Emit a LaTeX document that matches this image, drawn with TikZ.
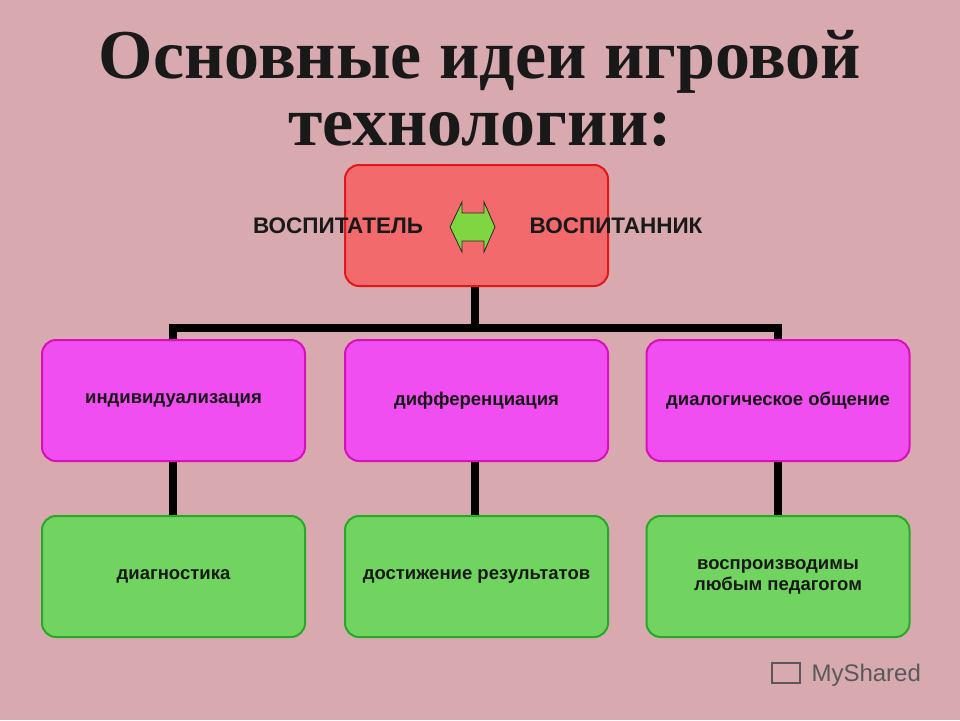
\documentclass[tikz,border=0pt]{standalone}
\usepackage{fontspec}
\setmainfont{Liberation Serif}
\setsansfont{Liberation Sans}
\definecolor{bg}{HTML}{D8AAB0}
\definecolor{redf}{HTML}{F26A6C}
\definecolor{redd}{HTML}{E01818}
\definecolor{pinkf}{HTML}{F04EF0}
\definecolor{pinkd}{HTML}{D810B8}
\definecolor{greenf}{HTML}{72D460}
\definecolor{greend}{HTML}{28A828}
\definecolor{arrg}{HTML}{7FD640}
\begin{document}
\begin{tikzpicture}[x=1pt,y=-1pt,
  box/.style={draw,line width=2pt,rounded corners=14pt,minimum width=263pt,minimum height=121pt,inner sep=0pt},
  redbox/.style={box,fill=redf,draw=redd},
  pinkbox/.style={box,fill=pinkf,draw=pinkd},
  greenbox/.style={box,fill=greenf,draw=greend},
  lbl/.style={font=\sffamily\bfseries\fontsize{18.5}{21}\selectfont,align=center,text=black!90},
  conn/.style={line width=8pt,black}]
\fill[bg] (0,0) rectangle (960,720);
\useasboundingbox (0,0) rectangle (960,720);
\node[font=\bfseries\fontsize{70}{74}\selectfont,text=black!90] (t1) at (480,62) {Основные идеи игровой};
\node[font=\bfseries\fontsize{70}{74}\selectfont,text=black!90] (t2) at (480,130) {технологии:};
\coordinate (hl) at (173,328);
\coordinate (hm) at (475,328);
\coordinate (hr) at (778,328);
\draw[conn] (475,286) -- (hm);
\draw[conn] (169,328) -- (782,328);
\draw[conn] (hl) -- (173,340);
\draw[conn] (hr) -- (778,340);
\draw[conn] (173,461) -- (173,516);
\draw[conn] (475,461) -- (475,516);
\draw[conn] (778,461) -- (778,516);
\node[redbox] (top) at (476.5,225.5) {};
\node[pinkbox] (p1) at (173.5,400.5) {};
\node[pinkbox] (p2) at (476.5,400.5) {};
\node[pinkbox] (p3) at (778,400.5) {};
\node[greenbox] (g1) at (173.5,576.5) {};
\node[greenbox] (g2) at (476.5,576.5) {};
\node[greenbox] (g3) at (778,576.5) {};
\node[lbl,font=\sffamily\bfseries\fontsize{22.5}{25}\selectfont] (vl) at (338,226) {ВОСПИТАТЕЛЬ};
\node[lbl,font=\sffamily\bfseries\fontsize{22.5}{25}\selectfont] (vr) at (616,226) {ВОСПИТАННИК};
\draw[fill=arrg,draw=black!85,line width=0.8pt] (450,227) -- (462,202) -- (462,213) -- (484,213) -- (484,202) -- (495,227) -- (484,252) -- (484,241) -- (462,241) -- (462,252) -- cycle;
\node[lbl] at (p1) {индивидуализация};
\node[lbl] at (p2) {дифференциация};
\node[lbl] at (p3) {диалогическое общение};
\node[lbl] at (g1) {диагностика};
\node[lbl] at (g2) {достижение результатов};
\node[lbl] at (g3) {воспроизводимы\\любым педагогом};
\node[font=\sffamily\fontsize{24}{26}\selectfont,text=black!65,anchor=west] (ms) at (808,675) {MyShared};
\draw[black!65,line width=1.5pt] (772,663) rectangle (800,683);
\end{tikzpicture}
\end{document}
